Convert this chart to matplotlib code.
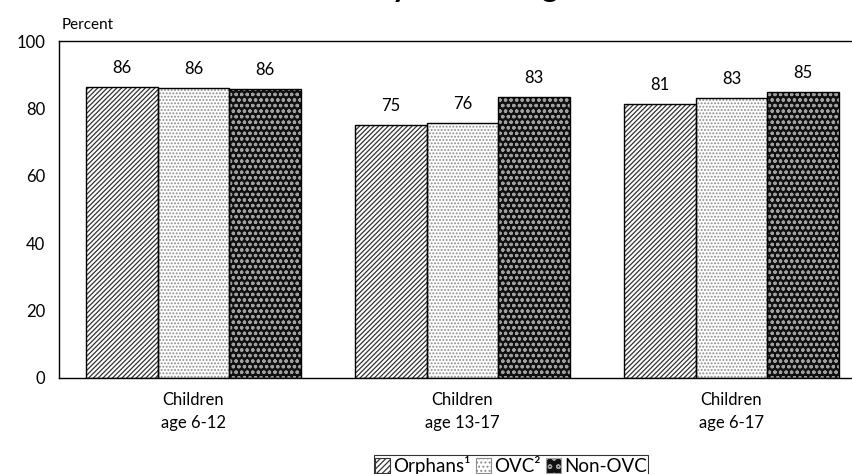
import matplotlib
matplotlib.use("Agg")
import matplotlib.pyplot as plt
import matplotlib.patches as mpatches
import numpy as np

plt.rcParams['font.family'] = ['Lato', 'DejaVu Sans']
plt.rcParams['hatch.linewidth'] = 0.9

categories = ["Children\nage 6-12", "Children\nage 13-17", "Children\nage 6-17"]
series_names = ["Orphans\u00b9", "OVC\u00b2", "Non-OVC"]
orphans = [86.4, 75.1, 81.4]
ovc = [86.2, 75.8, 83.2]
non_ovc = [85.9, 83.3, 84.9]
yticks = [0, 20, 40, 60, 80, 100]
title = "Children Currently Attending School"

W, H = 852, 474
fig = plt.figure(figsize=(W / 100, H / 100), dpi=100)
left_px, top_px, bottom_px = 59, 41, 378
unit_px = 269
ax_w_px = 3 * unit_px
ax = fig.add_axes([left_px / W, 1 - bottom_px / H, ax_w_px / W, (bottom_px - top_px) / H])

x = np.arange(len(categories))
bw = 0.266
offsets = [-bw, 0, bw]

# Orphans: diagonal hatching
ax.bar(x + offsets[0], orphans, bw, facecolor='white', edgecolor='#333333',
       hatch='///////', linewidth=0, zorder=2)
ax.bar(x + offsets[0], orphans, bw, facecolor='none', edgecolor='black', linewidth=1.0, zorder=3)
# OVC: light stipple
ax.bar(x + offsets[1], ovc, bw, facecolor='white', edgecolor='#8a8a8a',
       hatch='.....', linewidth=0, zorder=2)
ax.bar(x + offsets[1], ovc, bw, facecolor='none', edgecolor='black', linewidth=1.0, zorder=3)
# Non-OVC: dark with white speckles
ax.bar(x + offsets[2], non_ovc, bw, facecolor='#111111', edgecolor='#a0a0a0',
       hatch='ooo', linewidth=0, zorder=2)
ax.bar(x + offsets[2], non_ovc, bw, facecolor='none', edgecolor='black', linewidth=1.0, zorder=3)

for vals, off in zip([orphans, ovc, non_ovc], offsets):
    for xi, v in zip(x, vals):
        ax.text(xi + off, v + 3.2, f"{round(v):d}", ha='center', va='bottom', fontsize=12)

ax.set_xlim(-0.5, 2.5)
ax.set_ylim(0, 100)
ax.set_yticks(yticks)
ax.set_yticklabels([str(t) for t in yticks], fontsize=12)
ax.set_xticks(x)
ax.set_xticklabels(categories, fontsize=12, linespacing=1.55)
ax.tick_params(axis='both', length=0)
ax.tick_params(axis='y', pad=10)
ax.tick_params(axis='x', pad=10)
for s in ['top', 'left', 'bottom']:
    ax.spines[s].set_linewidth(1.0)
    ax.spines[s].set_color('black')
ax.spines['right'].set_visible(False)

fig.text(62 / W, 1 - 29 / H, "Percent", fontsize=11, ha='left', va='baseline')

# Title, mostly cut off at the top of the figure (only descenders visible)
fig.text(404 / W, 1 + 3 / H, title, fontsize=23, fontweight='bold', ha='center', va='baseline')

handles = [
    mpatches.Patch(facecolor='white', edgecolor='#333333', hatch='//////', linewidth=0.8),
    mpatches.Patch(facecolor='white', edgecolor='#8a8a8a', hatch='....', linewidth=0.8),
    mpatches.Patch(facecolor='#111111', edgecolor='#a0a0a0', hatch='oo', linewidth=0.8),
]
leg = fig.legend(handles, series_names, loc='upper center', bbox_to_anchor=(511 / W, 1 - 455 / H),
                 ncol=3, frameon=True, fancybox=False, edgecolor='black', fontsize=13.5,
                 handlelength=0.8, handleheight=0.8, handletextpad=0.15, columnspacing=0.3,
                 borderpad=0.05, borderaxespad=0)
leg.get_frame().set_linewidth(0.8)

fig.savefig("out.png", dpi=100)
